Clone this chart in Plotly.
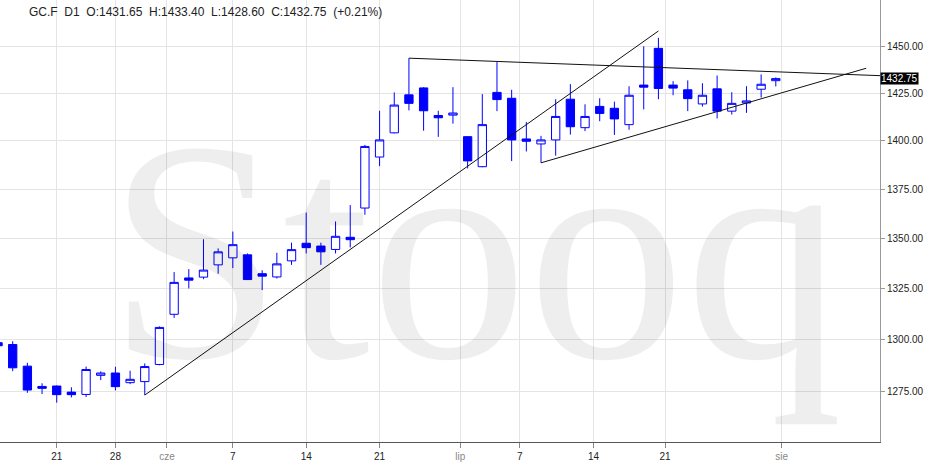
import numpy as np
import plotly.graph_objects as go

ticker = "GC.F"
interval = "D1"

dates = ["2019-05-15", "2019-05-16", "2019-05-17", "2019-05-20", "2019-05-21", "2019-05-22",
         "2019-05-23", "2019-05-24", "2019-05-28", "2019-05-29", "2019-05-30", "2019-05-31",
         "2019-06-03", "2019-06-04", "2019-06-05", "2019-06-06", "2019-06-07", "2019-06-10",
         "2019-06-11", "2019-06-12", "2019-06-13", "2019-06-14", "2019-06-17", "2019-06-18",
         "2019-06-19", "2019-06-20", "2019-06-21", "2019-06-24", "2019-06-25", "2019-06-26",
         "2019-06-27", "2019-06-28", "2019-07-01", "2019-07-02", "2019-07-03", "2019-07-05",
         "2019-07-08", "2019-07-09", "2019-07-10", "2019-07-11", "2019-07-12", "2019-07-15",
         "2019-07-16", "2019-07-17", "2019-07-18", "2019-07-19", "2019-07-22", "2019-07-23",
         "2019-07-24", "2019-07-25", "2019-07-26", "2019-07-29", "2019-07-30", "2019-07-31"]

opens = [1298.5, 1297.6, 1287.2, 1277.5, 1277.7, 1274.8, 1273.7, 1282.8, 1283.9, 1279.3,
         1279.8, 1288.0, 1312.3, 1330.2, 1330.6, 1336.7, 1340.2, 1341.7, 1332.3, 1330.7,
         1338.7, 1347.5, 1346.1, 1344.4, 1350.5, 1365.3, 1391.5, 1404.1, 1424.1, 1427.8,
         1413.2, 1413.4, 1402.1, 1386.5, 1425.4, 1422.3, 1400.9, 1398.3, 1400.4, 1421.8,
         1406.8, 1418.0, 1417.0, 1408.4, 1429.3, 1449.0, 1429.3, 1426.8, 1419.3, 1427.3,
         1415.5, 1419.8, 1427.1, 1431.65]
highs = [1300.5, 1299.2, 1288.8, 1279.0, 1277.9, 1277.1, 1287.0, 1284.7, 1286.9, 1285.0,
         1288.5, 1306.4, 1333.1, 1334.6, 1349.5, 1344.9, 1353.4, 1342.4, 1334.0, 1342.7,
         1347.8, 1363.0, 1347.8, 1358.5, 1366.8, 1397.8, 1415.7, 1425.4, 1443.7, 1428.2,
         1415.7, 1428.2, 1402.3, 1424.5, 1441.6, 1426.8, 1409.8, 1402.5, 1421.8, 1429.8,
         1419.1, 1422.3, 1420.5, 1428.7, 1450.1, 1454.7, 1431.4, 1431.8, 1430.3, 1434.4,
         1425.5, 1428.7, 1435.0, 1433.40]
lows = [1293.0, 1284.8, 1274.5, 1273.9, 1269.8, 1272.3, 1272.5, 1280.5, 1275.6, 1278.6,
        1273.4, 1287.6, 1310.6, 1325.0, 1329.6, 1332.3, 1335.1, 1329.2, 1324.2, 1329.9,
        1336.7, 1342.4, 1336.7, 1342.4, 1345.4, 1361.9, 1386.8, 1403.8, 1415.9, 1405.2,
        1402.0, 1408.9, 1385.6, 1386.2, 1415.5, 1389.4, 1394.4, 1388.5, 1392.2, 1403.2,
        1405.0, 1410.2, 1403.0, 1405.7, 1416.4, 1421.8, 1423.9, 1415.5, 1417.9, 1411.6,
        1413.7, 1414.6, 1422.7, 1428.60]
closes = [1297.0, 1286.4, 1275.8, 1276.6, 1273.6, 1273.6, 1285.6, 1283.9, 1277.4, 1280.9,
          1287.0, 1305.9, 1328.0, 1329.1, 1334.1, 1343.2, 1346.8, 1329.4, 1331.1, 1337.2,
          1344.3, 1345.3, 1343.2, 1351.0, 1349.3, 1397.0, 1400.4, 1418.7, 1419.6, 1415.7,
          1412.0, 1414.5, 1389.5, 1408.4, 1421.6, 1400.4, 1399.7, 1400.4, 1412.7, 1407.3,
          1412.7, 1414.3, 1411.4, 1423.9, 1428.2, 1427.5, 1427.7, 1422.1, 1423.9, 1415.5,
          1419.6, 1420.9, 1429.75, 1432.75]

# x tick positions (in trading-day index units) and labels
x_tick_pos = [4, 8, 11.51, 16, 21, 26, 31.5, 35.55, 40.58, 45.45, 53.4]
x_tick_labels = ["21", "28", "cze", "7", "14", "21", "lip", "7", "14", "21", "sie"]
month_names = ["cze", "lip", "sie"]

y_tick_vals = [1275, 1300, 1325, 1350, 1375, 1400, 1425, 1450]

# hand-drawn trend lines: (x index, price) end points
trend1_x = [10, 45.0]
trend1_y = [1273.4, 1458.4]
trend2_x = [28, 60.2]
trend2_y = [1443.7, 1434.3]
trend3_x = [37, 59.16]
trend3_y = [1388.5, 1438.3]

watermark = "Stooq"

# ---------------------------------------------------------------
x_idx = list(range(len(dates)))
BLUE = "#0000ff"

fig = go.Figure()

# watermark (drawn first, beneath everything)
fig.add_trace(go.Scatter(
    x=[32.5], y=[1330.0], mode="text",
    text=[watermark], textposition="middle center",
    textfont=dict(family="Liberation Serif", size=315, color="rgba(0,0,0,0.065)"),
    hoverinfo="skip", showlegend=False))

fig.add_trace(go.Candlestick(
    x=x_idx, open=opens, high=highs, low=lows, close=closes,
    increasing=dict(line=dict(color=BLUE, width=1), fillcolor="#ffffff"),
    decreasing=dict(line=dict(color=BLUE, width=1), fillcolor=BLUE),
    whiskerwidth=0, showlegend=False))

for tx, ty in [(trend1_x, trend1_y), (trend2_x, trend2_y), (trend3_x, trend3_y)]:
    fig.add_trace(go.Scatter(x=tx, y=ty, mode="lines",
                             line=dict(color="#111111", width=1),
                             hoverinfo="skip", showlegend=False))

ticktext = [f"<span style='color:#888888'>{t}</span>" if t in month_names else t
            for t in x_tick_labels]

last = len(closes) - 1
chg = (closes[last] - closes[last - 1]) / closes[last - 1] * 100
sp = "\u00a0\u00a0"
title = (f"{ticker}{sp}{interval}{sp}O:{opens[last]:.2f}{sp}H:{highs[last]:.2f}"
         f"{sp}L:{lows[last]:.2f}{sp}C:{closes[last]:.2f}{sp}({chg:+.2f}%)")

fig.update_layout(
    width=940, height=472,
    margin=dict(l=0, r=60, t=0, b=30),
    paper_bgcolor="white", plot_bgcolor="white",
    boxgap=0.19, boxgroupgap=0.3,
    showlegend=False,
    font=dict(family="Liberation Sans, Arial, sans-serif", color="#222222"),
    xaxis=dict(
        range=[0.1346, 60.10], tickmode="array", tickvals=x_tick_pos, ticktext=ticktext,
        showgrid=True, gridcolor="#e4e4e4", gridwidth=1,
        showline=True, linecolor="#555555", linewidth=1,
        ticks="outside", ticklen=5, tickcolor="#888888",
        tickfont=dict(size=10, color="#222222"),
        zeroline=False, rangeslider=dict(visible=False), fixedrange=True),
    yaxis=dict(
        type="log", range=[3.097371, 3.168892], side="right",
        tickmode="array", tickvals=y_tick_vals,
        ticktext=[f"{v:.2f}" for v in y_tick_vals],
        showgrid=True, gridcolor="#e4e4e4", gridwidth=1,
        showline=True, linecolor="#999999", linewidth=1,
        ticks="outside", ticklen=4, tickcolor="#999999",
        tickfont=dict(size=10, color="#222222"),
        zeroline=False, fixedrange=True),
    annotations=[
        dict(xref="paper", yref="paper", x=27 / 880, y=1 - 12 / 442,
             xanchor="left", yanchor="middle", showarrow=False,
             text=title, font=dict(size=12, color="#222222")),
        dict(xref="paper", yref="y", x=1.0, y=np.log10(closes[last]),
             xanchor="left", yanchor="middle", showarrow=False,
             text=f"{closes[last]:.2f}", bgcolor="#000000", borderpad=0,
             font=dict(size=10, color="#ffffff")),
    ],
)

fig.write_html("out.html", config={"displayModeBar": False},
               post_script="document.body.style.margin='0px';")
